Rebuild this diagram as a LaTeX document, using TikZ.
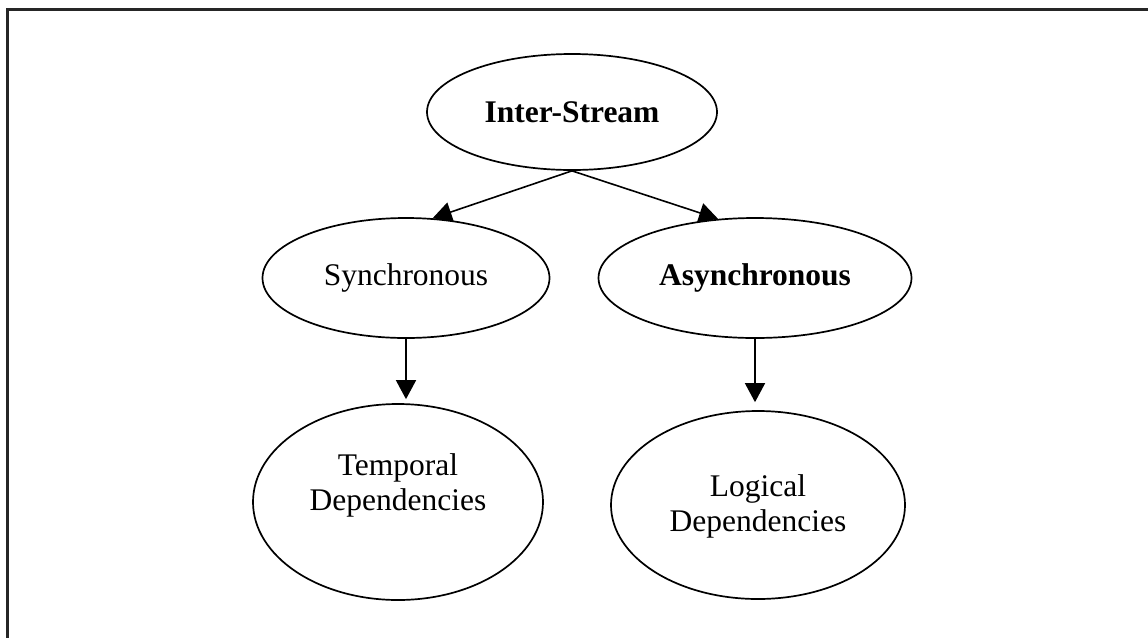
\documentclass[tikz,border=0pt]{standalone}
\usepackage{fontspec}
\setmainfont{Liberation Serif}
\usetikzlibrary{shapes.geometric,arrows.meta}
\tikzset{
  bubble/.style={draw, line width=1.7pt, ellipse, inner sep=0pt},
  label text/.style={align=center, font=\fontsize{31.5}{35}\selectfont},
  link/.style={line width=1.6pt, -{Triangle[length=19pt,width=20pt]}},
  frame/.style={line width=2.2pt, black!85}
}
\begin{document}
\begin{tikzpicture}[x=1pt,y=-1pt]
  \useasboundingbox (0,0) rectangle (1148,638);

  % outer frame (only top and left edges fall inside the page)
  \coordinate (corner) at (7.5,9.5);
  \draw[frame] (1148,9.5) -- (corner) -- (7.5,638);

  % ellipses
  \node[bubble, minimum width=290pt, minimum height=116pt,
        label text, font=\fontsize{31.5}{35}\selectfont\bfseries]
        (inter) at (572,112) {Inter-Stream};
  \node[bubble, minimum width=287pt, minimum height=120pt, label text]
        (sync) at (406,278) {Synchronous};
  \node[bubble, minimum width=313pt, minimum height=120pt,
        label text, font=\fontsize{31.5}{35}\selectfont\bfseries]
        (async) at (755,278) {Asynchronous};
  \node[bubble, minimum width=290pt, minimum height=196pt]
        (temp) at (398,502) {};
  \node[bubble, minimum width=294pt, minimum height=188pt]
        (logic) at (758,505) {};

  % two-line labels of the lower ellipses
  \node[label text] (temptext) at ([yshift=17pt]temp.center)
        {Temporal\\Dependencies};
  \node[label text] (logictext) at ([yshift=-1pt]logic.center)
        {Logical\\Dependencies};

  % connectors
  \draw[link] (inter.south) -- (sync.66);
  \draw[link] (inter.south) -- (async.122);
  \draw[link, shorten >=4pt] (sync.south) -- (sync.south |- temp.north);
  \draw[link, shorten >=8pt] (async.south) -- (async.south |- logic.north);
\end{tikzpicture}
\end{document}
